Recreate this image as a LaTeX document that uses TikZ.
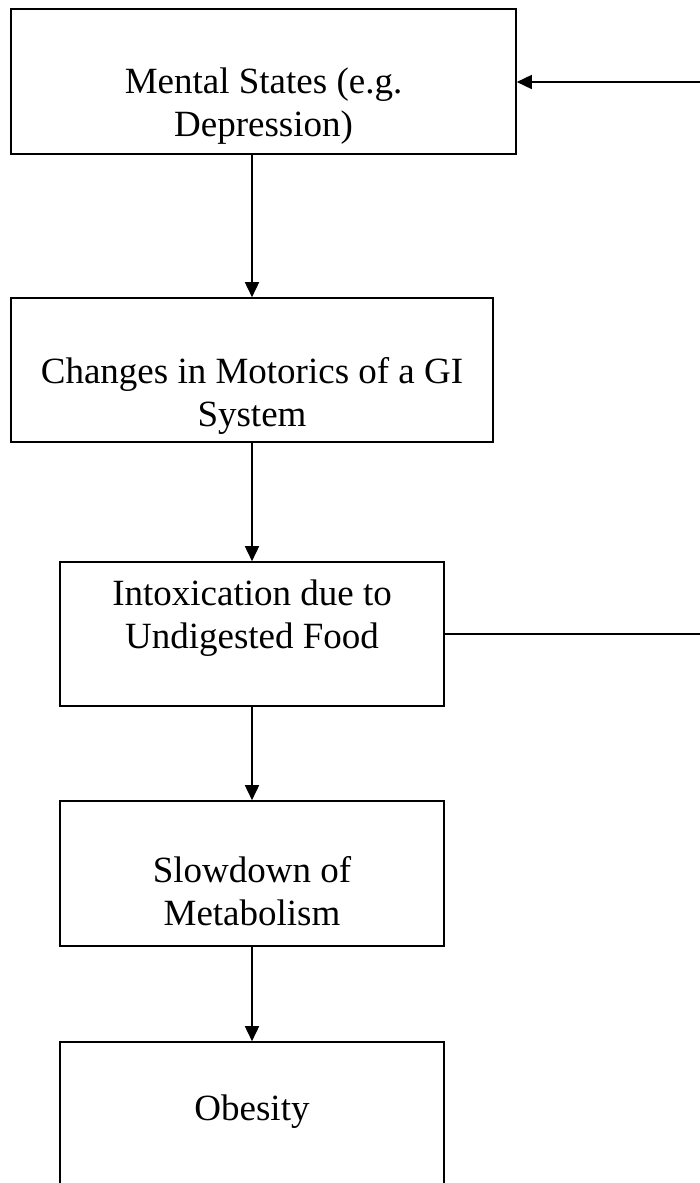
\documentclass[tikz,border=0pt]{standalone}
\usepackage{fontspec}
\setmainfont{Liberation Serif}
\usetikzlibrary{arrows.meta}
\tikzset{
  box/.style={draw=black, line width=1.6pt, inner sep=0pt, fill=white},
  lbl/.style={inner sep=0pt, align=center, font=\fontsize{37}{43}\selectfont},
  conn/.style={line width=1.6pt, -{Triangle[length=15pt,width=14pt]}},
  plain/.style={line width=1.6pt}
}
\begin{document}
\begin{tikzpicture}[x=1pt,y=-1pt]
\useasboundingbox (0,0) rectangle (699,1183);
\fill[white] (0,0) rectangle (699,1183);
% boxes
\node[box, minimum width=505pt, minimum height=145pt] (b1) at (263.5,81.5) {};
\node[box, minimum width=482pt, minimum height=144pt] (b2) at (252,370) {};
\node[box, minimum width=384pt, minimum height=144pt] (b3) at (252,634) {};
\node[box, minimum width=384pt, minimum height=145pt] (b4) at (252,873.5) {};
\node[box, minimum width=384pt, minimum height=160pt] (b5) at (252,1122) {};
% texts
\node[lbl] (t1) at (263.5,106) {Mental States (e.g.\\Depression)};
\node[lbl] (t2) at (252,396) {Changes in Motorics of a GI\\System};
\node[lbl] (t3) at (252,618) {Intoxication due to\\Undigested Food};
\node[lbl] (t4) at (252,891) {Slowdown of\\Metabolism};
\node[lbl] (t5) at (252,1112) {Obesity};
% coordinates
\coordinate (ax) at (252,0);
\coordinate (r1) at (700,82);
\coordinate (r3) at (700,634);
% connectors
\draw[conn] (b1.south -| ax) -- (b2.north -| ax);
\draw[conn] (b2.south -| ax) -- (b3.north -| ax);
\draw[conn] (b3.south -| ax) -- (b4.north -| ax);
\draw[conn] (b4.south -| ax) -- (b5.north -| ax);
\draw[plain] (b3.east |- r3) -- (r3);
\draw[conn] (r1) -- (b1.east |- r1);
\end{tikzpicture}
\end{document}
